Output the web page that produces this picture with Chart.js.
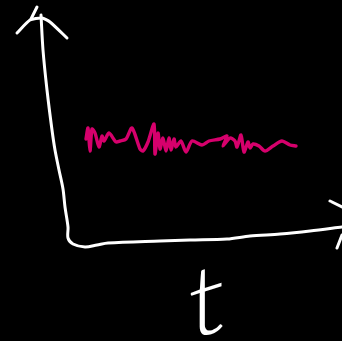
<!DOCTYPE html>
<html>
<head>
<meta charset="utf-8">
<style>
html, body { margin: 0; padding: 0; background: #000; }
canvas { display: block; }
</style>
<script src="https://cdn.jsdelivr.net/npm/chart.js@4"></script>
</head>
<body>
<canvas id="grafico" width="342" height="341"></canvas>
<script>
// sinal rosa
const sinalT = [86, 88, 90, 92, 95, 99, 102, 104, 109, 116, 120, 126, 132, 140, 143, 148, 154, 155, 158, 160, 163, 166, 169, 171, 174, 176, 181, 186, 192, 202, 209, 220, 227, 223, 230, 235, 237, 241, 244, 248, 250, 253, 259, 265, 273, 282, 290, 296];
const sinalV = [202, 213, 190, 212, 208, 194, 205, 200, 208, 199, 200, 202, 213, 192, 190, 199, 217, 187, 208, 192, 203, 190, 203, 191, 202, 194, 200, 189, 200, 196, 200, 202, 205, 195, 203, 200, 194, 206, 189, 199, 193, 197, 195, 190, 195, 200, 196, 195];

// eixos desenhados a mao
const eixoT = [41, 43, 47, 52, 55, 59, 63, 65, 68, 68, 73, 85, 97, 108, 160, 190, 227, 250, 280, 310, 342];
const eixoV = [326, 291, 251, 211, 191, 171, 152, 134, 114, 103, 97, 94, 96, 98, 100, 101, 102, 105, 107, 110, 114];

const setaCimaT = [17, 30, 42, 50, 67];
const setaCimaV = [308, 321, 323, 319, 303];
const pontaCimaT = [37, 31];
const pontaCimaV = [334, 322];
const setaDirT = [330, 342];
const setaDirV = [140, 134];
const pontaDirT = [337, 342];
const pontaDirV = [93, 106];

const rotuloEixo = 't';

function pontos(ts, vs) {
    return ts.map((t, i) => ({ x: t, y: vs[i] }));
}

function traco(ts, vs, cor, largura, curva) {
    return {
        data: pontos(ts, vs),
        showLine: true,
        borderColor: cor,
        borderWidth: largura,
        tension: curva,
        pointRadius: 0,
        borderCapStyle: 'round',
        borderJoinStyle: 'round',
        clip: false
    };
}

// escreve o rotulo do eixo horizontal, inclinado como no desenho
const rotulo = {
    id: 'rotulo',
    afterDraw(chart) {
        const ctx = chart.ctx;
        ctx.save();
        ctx.fillStyle = '#ffffff';
        ctx.font = '300 92px Lato';
        ctx.textAlign = 'center';
        ctx.textBaseline = 'alphabetic';
        ctx.transform(1.15, -0.36, 0, 1.07, chart.scales.x.getPixelForValue(206), chart.scales.y.getPixelForValue(6));
        ctx.fillText(rotuloEixo, 0, 0);
        ctx.restore();
    }
};

new Chart(document.getElementById('grafico'), {
    type: 'scatter',
    data: {
        datasets: [
            traco(eixoT, eixoV, '#ffffff', 3, 0.3),
            traco(setaCimaT, setaCimaV, '#ffffff', 3, 0.2),
            traco(pontaCimaT, pontaCimaV, '#ffffff', 3, 0),
            traco(setaDirT, setaDirV, '#ffffff', 3, 0),
            traco(pontaDirT, pontaDirV, '#ffffff', 3, 0),
            traco(sinalT, sinalV, '#d6006c', 3.4, 0.25)
        ]
    },
    options: {
        responsive: false,
        animation: false,
        layout: { padding: 0 },
        plugins: { legend: { display: false }, tooltip: { enabled: false } },
        scales: {
            x: { type: 'linear', min: 0, max: 342, display: false },
            y: { type: 'linear', min: 0, max: 341, display: false }
        }
    },
    plugins: [rotulo]
});
</script>
</body>
</html>
